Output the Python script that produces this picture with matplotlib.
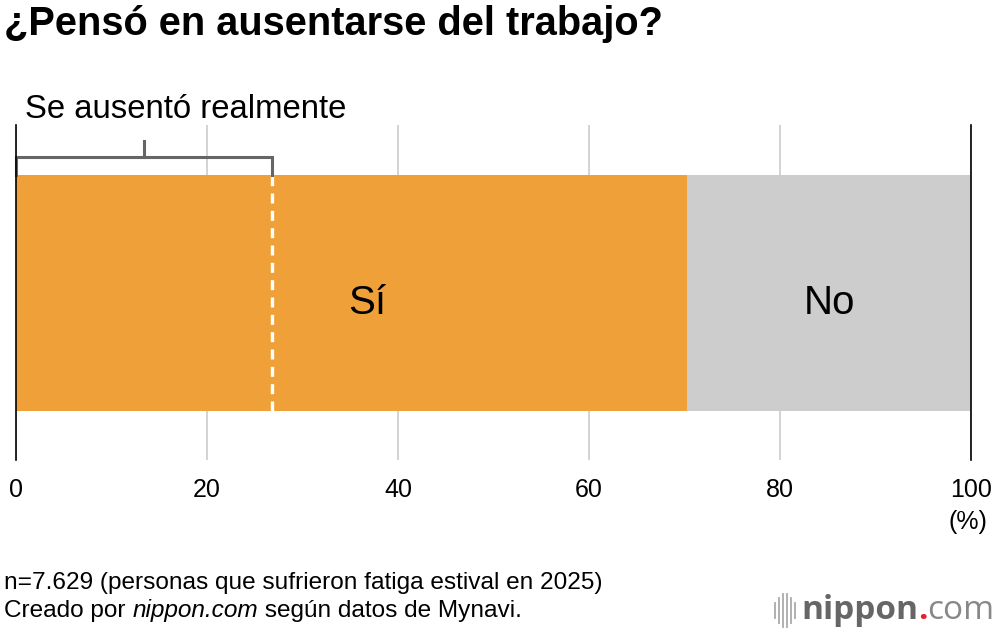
import matplotlib
matplotlib.use('Agg')
import matplotlib.pyplot as plt
from matplotlib.lines import Line2D

plt.rcParams['font.family'] = ['Liberation Sans', 'DejaVu Sans']

# data
categories = ['Sí', 'No']
values = [70.3, 29.7]
colors = ['#F0A038', '#CDCDCD']
absent_share = 26.8
ticks = [0, 20, 40, 60, 80, 100]

fig = plt.figure(figsize=(10, 6.36), dpi=100)
ax = fig.add_axes([0.016, 0.277, 0.955, 0.526])

left = 0
for cat, v, c in zip(categories, values, colors):
    ax.barh(0.4985, v, height=0.705, left=left, color=c, zorder=2)
    ax.text(left + v / 2 + (1.6 if cat == 'Sí' else 0), 0.47, cat, ha='center', va='center',
            fontsize=29, color='black', zorder=4)
    left += v

# dashed line for "se ausentó"
ax.plot([absent_share, absent_share], [0.146, 0.851], color='white', lw=2.4,
        dashes=(3, 2.2), zorder=3)

# bracket
bc = '#666666'
ax.plot([0.05, 0.05, absent_share, absent_share], [0.851, 0.904, 0.904, 0.851],
        color=bc, lw=2.2, solid_joinstyle='miter', zorder=3, clip_on=False)
ax.plot([absent_share / 2, absent_share / 2], [0.904, 0.952], color=bc, lw=2.2, zorder=3,
        clip_on=False)
ax.text(0.95, 1.0, 'Se ausentó realmente', fontsize=23.7, ha='left', va='bottom')

ax.set_xlim(0, 100)
ax.set_ylim(0, 1)
ax.set_xticks(ticks)
ax.set_xticklabels([str(t) for t in ticks], fontsize=18)
ax.tick_params(axis='x', length=0, pad=13)
ax.set_yticks([])
ax.grid(axis='x', color='#CCCCCC', lw=1.2, zorder=0)
for s in ['top', 'bottom']:
    ax.spines[s].set_visible(False)
for s in ['left', 'right']:
    ax.spines[s].set_color('black')
    ax.spines[s].set_linewidth(1.2)
    ax.spines[s].set_zorder(5)

fig.text(0.987, 0.180, '(%)', fontsize=18, ha='right', va='center')

fig.text(0.004, 0.962, '¿Pensó en ausentarse del trabajo?', fontsize=28.6, fontweight='bold',
         ha='left', va='center')

fig.text(0.004, 0.083, 'n=7.629 (personas que sufrieron fatiga estival en 2025)', fontsize=17.6,
         ha='left', va='center')

renderer = fig.canvas.get_renderer()


def chain(parts, x0, y, **kw):
    # place text pieces one after another
    x = x0
    for txt, opts in parts:
        t = fig.text(x, y, txt, ha='left', va='center', **kw, **opts)
        bb = t.get_window_extent(renderer)
        x = bb.x1 / fig.bbox.width
    return x


chain([('Creado por ', {}), ('nippon.com', {'style': 'italic'}), (' según datos de Mynavi.', {})],
      0.004, 0.040, fontsize=17.6)

# logo
for x, h in zip([0.775, 0.779, 0.783, 0.787, 0.791, 0.795],
                [0.012, 0.020, 0.026, 0.026, 0.020, 0.012]):
    fig.add_artist(Line2D([x, x], [0.040 - h, 0.040 + h], color='#AAAAAA', lw=1.3))
chain([('nippon', {'fontweight': 'bold', 'color': '#666666'}),
       ('.', {'fontweight': 'bold', 'color': '#E8202A'}),
       ('com', {'color': '#888888'})],
      0.801, 0.040, fontsize=24, family='Open Sans')

fig.savefig('out.png', dpi=100)
